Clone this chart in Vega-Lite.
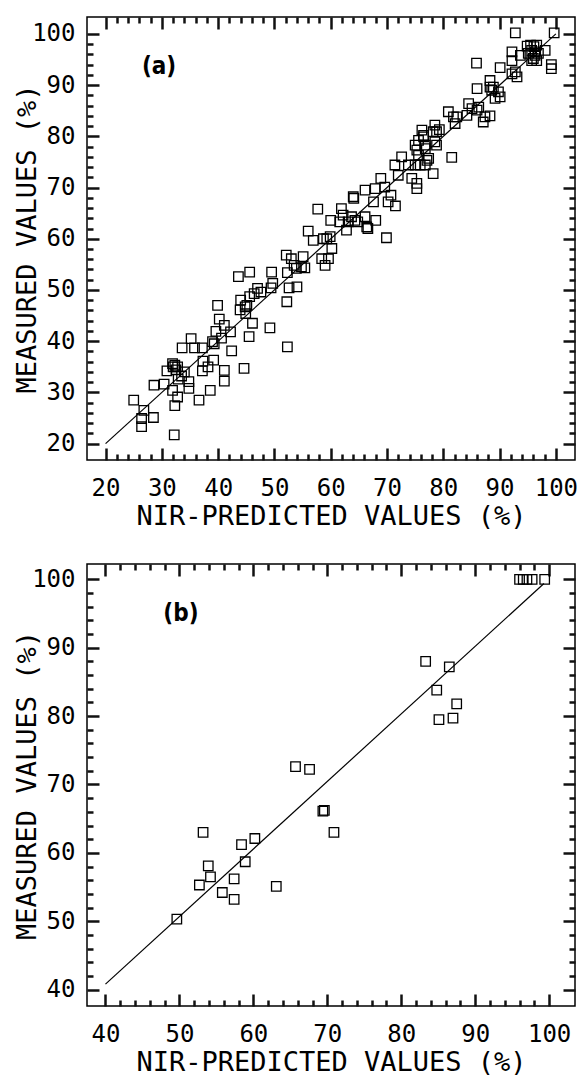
{
  "$schema": "https://vega.github.io/schema/vega-lite/v6.json",
  "padding": {"left": 12, "top": 15, "right": 0, "bottom": 5},
  "spacing": 104,
  "bounds": "flush",
  "config": {
    "view": {"stroke": "black", "strokeWidth": 1.5},
    "axis": {
      "domain": false, "grid": false,
      "labelFont": "DejaVu Sans Mono", "labelFontSize": 24, "labelColor": "black",
      "titleFont": "DejaVu Sans Mono", "titleFontSize": 27, "titleFontWeight": "normal", "titleColor": "black",
      "tickColor": "#111111", "tickWidth": 2.5, "tickSize": -12,
      "labelFlush": false, "labelOverlap": false, "labelBound": false
    }
  },
  "datasets": {
    "pa": [
      {"p":25.0,"m":28.5},{"p":26.8,"m":26.5},{"p":26.4,"m":24.9},{"p":26.4,"m":23.3},{"p":28.5,"m":25.1},{"p":32.2,"m":21.7},{"p":32.3,"m":27.4},{"p":28.6,"m":31.4},{"p":30.4,"m":31.6},{"p":30.9,"m":34.2},
      {"p":31.9,"m":35.6},{"p":32.0,"m":35.0},{"p":32.3,"m":35.3},{"p":32.8,"m":35.0},{"p":32.5,"m":34.4},{"p":34.0,"m":34.0},{"p":31.9,"m":30.4},{"p":32.8,"m":29.1},{"p":32.9,"m":32.6},{"p":33.5,"m":33.2},
      {"p":34.8,"m":32.1},{"p":34.8,"m":30.8},{"p":33.6,"m":38.7},{"p":35.2,"m":40.5},{"p":35.8,"m":38.7},{"p":36.6,"m":28.5},{"p":37.2,"m":34.2},{"p":37.3,"m":36.1},{"p":37.2,"m":38.7},{"p":38.6,"m":30.4},
      {"p":39.2,"m":36.3},{"p":39.0,"m":39.9},{"p":39.3,"m":39.5},{"p":39.9,"m":47.0},{"p":40.2,"m":44.3},{"p":39.6,"m":41.9},{"p":40.6,"m":40.6},{"p":41.1,"m":43.1},{"p":41.1,"m":34.3},{"p":41.1,"m":32.2},
      {"p":42.4,"m":38.1},{"p":42.2,"m":41.8},{"p":43.6,"m":52.6},{"p":44.0,"m":48.0},{"p":43.9,"m":46.1},{"p":44.6,"m":34.7},{"p":45.1,"m":47.0},{"p":45.6,"m":53.5},{"p":44.9,"m":45.4},{"p":45.5,"m":40.9},
      {"p":46.1,"m":43.5},{"p":46.4,"m":49.3},{"p":47.0,"m":50.3},{"p":47.6,"m":49.6},{"p":49.2,"m":42.6},{"p":49.5,"m":53.5},{"p":49.7,"m":51.3},{"p":52.2,"m":47.7},{"p":52.3,"m":38.9},{"p":52.6,"m":50.4},
      {"p":54.0,"m":50.6},{"p":38.2,"m":35.0},{"p":45.6,"m":48.7},{"p":44.8,"m":46.7},{"p":49.4,"m":50.4},
      {"p":52.1,"m":56.8},{"p":53.0,"m":56.1},{"p":53.5,"m":54.8},{"p":53.9,"m":54.2},{"p":55.1,"m":56.5},{"p":54.8,"m":54.5},{"p":55.4,"m":54.3},{"p":52.3,"m":53.4},{"p":56.0,"m":61.5},{"p":56.9,"m":59.7},
      {"p":57.7,"m":65.8},{"p":58.7,"m":60.0},{"p":59.3,"m":60.0},{"p":59.9,"m":60.4},{"p":58.4,"m":56.1},{"p":59.0,"m":54.8},{"p":59.6,"m":56.1},{"p":60.2,"m":58.1},{"p":60.0,"m":63.6},{"p":61.9,"m":65.9},
      {"p":62.2,"m":64.6},{"p":61.6,"m":63.3},{"p":63.1,"m":63.3},{"p":63.7,"m":64.3},{"p":64.3,"m":63.6},{"p":64.8,"m":63.3},{"p":62.8,"m":61.7},{"p":64.0,"m":68.2},{"p":64.1,"m":67.9},{"p":66.1,"m":69.5},
      {"p":66.1,"m":64.3},{"p":66.4,"m":62.3},{"p":68.0,"m":63.6},{"p":66.6,"m":62.0},{"p":67.6,"m":67.2},{"p":67.9,"m":69.8},{"p":68.9,"m":71.8},{"p":69.6,"m":70.1},{"p":69.9,"m":60.2},{"p":70.7,"m":68.5},
      {"p":71.5,"m":66.4},{"p":70.2,"m":67.2},{"p":71.4,"m":74.4},{"p":72.0,"m":72.4},{"p":72.6,"m":76.0},{"p":73.8,"m":74.4},{"p":75.0,"m":74.4},{"p":75.9,"m":74.4},{"p":74.4,"m":71.8},{"p":75.3,"m":70.8},
      {"p":75.3,"m":69.8},{"p":75.6,"m":76.3},{"p":77.4,"m":75.7},{"p":76.8,"m":74.4},{"p":78.2,"m":72.7},{"p":75.0,"m":78.3},{"p":75.6,"m":79.2},{"p":76.5,"m":80.2},{"p":76.8,"m":78.3},{"p":78.5,"m":78.9},
      {"p":78.8,"m":78.3},{"p":81.5,"m":75.9},{"p":75.3,"m":77.3},{"p":76.8,"m":77.6},{"p":77.1,"m":75.3},
      {"p":78.5,"m":82.2},{"p":78.8,"m":80.9},{"p":78.2,"m":80.9},{"p":76.2,"m":81.2},{"p":76.5,"m":79.9},{"p":79.3,"m":81.3},{"p":80.9,"m":84.8},{"p":81.8,"m":83.8},{"p":82.1,"m":82.5},{"p":82.4,"m":83.8},
      {"p":84.2,"m":84.1},{"p":84.5,"m":86.4},{"p":85.1,"m":85.4},{"p":86.3,"m":85.7},{"p":86.0,"m":85.1},{"p":87.4,"m":83.8},{"p":88.3,"m":84.0},{"p":87.1,"m":82.8},{"p":86.0,"m":89.3},{"p":85.9,"m":94.3},
      {"p":88.3,"m":90.9},{"p":88.3,"m":89.6},{"p":88.9,"m":89.6},{"p":88.6,"m":89.0},{"p":89.8,"m":88.7},{"p":90.1,"m":87.7},{"p":89.2,"m":87.4},{"p":90.1,"m":93.4},{"p":92.2,"m":92.2},{"p":92.8,"m":92.6},
      {"p":93.1,"m":91.6},{"p":92.2,"m":96.5},{"p":92.2,"m":94.8},{"p":93.7,"m":95.8},{"p":92.8,"m":100.2},{"p":94.9,"m":97.6},{"p":95.5,"m":97.8},{"p":96.1,"m":97.5},{"p":96.6,"m":97.8},{"p":95.7,"m":96.8},
      {"p":95.1,"m":96.2},{"p":96.3,"m":95.8},{"p":96.9,"m":96.2},{"p":96.0,"m":95.2},{"p":95.7,"m":94.8},{"p":96.6,"m":94.8},{"p":96.3,"m":96.5},{"p":98.1,"m":96.8},{"p":99.2,"m":94.0},{"p":99.2,"m":93.2},
      {"p":99.7,"m":100.2}
    ],
    "pb": [
      {"p":49.65,"m":50.3},{"p":53.2,"m":63.0},{"p":52.7,"m":55.3},{"p":53.9,"m":58.1},{"p":54.2,"m":56.5},{"p":55.8,"m":54.2},{"p":57.4,"m":56.2},{"p":57.4,"m":53.2},{"p":58.4,"m":61.2},{"p":58.9,"m":58.7},
      {"p":60.2,"m":62.1},{"p":63.1,"m":55.1},{"p":65.7,"m":72.6},{"p":67.6,"m":72.2},{"p":69.4,"m":66.1},{"p":69.6,"m":66.2},{"p":70.9,"m":63.0},{"p":83.3,"m":88.0},{"p":86.5,"m":87.2},{"p":84.8,"m":83.8},
      {"p":85.1,"m":79.5},{"p":87.0,"m":79.7},{"p":87.5,"m":81.8},{"p":96.0,"m":100},{"p":96.5,"m":100},{"p":97.0,"m":100},{"p":97.7,"m":100},{"p":99.4,"m":100}
    ],
    "fa": [{"p":20,"m":20},{"p":100,"m":100}],
    "fb": [{"p":40,"m":40.8},{"p":99.3,"m":99.4}]
  },
  "vconcat": [
    {
      "width": 488, "height": 443,
      "layer": [
        {
          "data": {"name": "pa"},
          "mark": {"type": "point", "shape": "square", "filled": false, "size": 90, "stroke": "black", "strokeWidth": 1.3, "opacity": 1},
          "encoding": {
            "x": {"field": "p", "type": "quantitative", "scale": {"domain": [16.7, 103.4], "nice": false, "zero": false},
              "axis": {"orient": "bottom", "values": [20,22,24,26,28,30,32,34,36,38,40,42,44,46,48,50,52,54,56,58,60,62,64,66,68,70,72,74,76,78,80,82,84,86,88,90,92,94,96,98,100],
                "labelExpr": "datum.value % 10 === 0 ? datum.label : ''",
                "tickColor": "#111111", "tickWidth": 2.5, "tickSize": -12,
                "tickDash": {"condition": {"test": "datum.value % 10 === 0", "value": [20, 0]}, "value": [6, 40]},
                "labelPadding": 28, "title": "NIR-PREDICTED VALUES (%)", "titlePadding": 3}},
            "y": {"field": "m", "type": "quantitative", "scale": {"domain": [16.8, 103.3], "nice": false, "zero": false},
              "axis": {"orient": "left", "values": [20,22,24,26,28,30,32,34,36,38,40,42,44,46,48,50,52,54,56,58,60,62,64,66,68,70,72,74,76,78,80,82,84,86,88,90,92,94,96,98,100],
                "labelExpr": "datum.value % 10 === 0 ? datum.label : ''",
                "tickColor": "#111111", "tickWidth": 2.5, "tickSize": -12,
                "tickDash": {"condition": {"test": "datum.value % 10 === 0", "value": [20, 0]}, "value": [6, 40]},
                "labelPadding": 24, "title": "MEASURED VALUES (%)", "titlePadding": -10}}
          }
        },
        {
          "data": {"name": "fa"},
          "mark": {"type": "line", "color": "black", "strokeWidth": 1.2},
          "encoding": {
            "x": {"field": "p", "type": "quantitative", "scale": {"domain": [16.7, 103.4], "nice": false, "zero": false},
              "axis": {"orient": "top", "labels": false, "title": null, "values": [20,22,24,26,28,30,32,34,36,38,40,42,44,46,48,50,52,54,56,58,60,62,64,66,68,70,72,74,76,78,80,82,84,86,88,90,92,94,96,98,100],
                "tickColor": "#111111", "tickWidth": 2.5, "tickSize": -12,
                "tickDash": {"condition": {"test": "datum.value % 10 === 0", "value": [20, 0]}, "value": [6, 40]}}},
            "y": {"field": "m", "type": "quantitative", "scale": {"domain": [16.8, 103.3], "nice": false, "zero": false},
              "axis": {"orient": "right", "labels": false, "title": null, "values": [20,22,24,26,28,30,32,34,36,38,40,42,44,46,48,50,52,54,56,58,60,62,64,66,68,70,72,74,76,78,80,82,84,86,88,90,92,94,96,98,100],
                "tickColor": "#111111", "tickWidth": 2.5, "tickSize": -12,
                "tickDash": {"condition": {"test": "datum.value % 10 === 0", "value": [20, 0]}, "value": [6, 40]}}}
          }
        },
        {
          "data": {"values": [{}]},
          "mark": {"type": "text", "text": "(a)", "font": "DejaVu Sans Condensed, DejaVu Sans", "fontWeight": "bold", "fontSize": 24, "color": "black"},
          "encoding": {
            "x": {"datum": 29.5, "type": "quantitative", "axis": null},
            "y": {"datum": 93.5, "type": "quantitative", "axis": null}
          }
        }
      ],
      "resolve": {"axis": {"x": "independent", "y": "independent"}}
    },
    {
      "width": 488, "height": 442,
      "layer": [
        {
          "data": {"name": "pb"},
          "mark": {"type": "point", "shape": "square", "filled": false, "size": 90, "stroke": "black", "strokeWidth": 1.3, "opacity": 1},
          "encoding": {
            "x": {"field": "p", "type": "quantitative", "scale": {"domain": [37.5, 103.5], "nice": false, "zero": false},
              "axis": {"orient": "bottom", "values": [40,42,44,46,48,50,52,54,56,58,60,62,64,66,68,70,72,74,76,78,80,82,84,86,88,90,92,94,96,98,100],
                "labelExpr": "datum.value % 10 === 0 ? datum.label : ''",
                "tickColor": "#111111", "tickWidth": 2.5, "tickSize": -12,
                "tickDash": {"condition": {"test": "datum.value % 10 === 0", "value": [20, 0]}, "value": [6, 40]},
                "labelPadding": 28, "title": "NIR-PREDICTED VALUES (%)", "titlePadding": 3}},
            "y": {"field": "m", "type": "quantitative", "scale": {"domain": [37.6, 102.25], "nice": false, "zero": false},
              "axis": {"orient": "left", "values": [40,42,44,46,48,50,52,54,56,58,60,62,64,66,68,70,72,74,76,78,80,82,84,86,88,90,92,94,96,98,100],
                "labelExpr": "datum.value % 10 === 0 ? datum.label : ''",
                "tickColor": "#111111", "tickWidth": 2.5, "tickSize": -12,
                "tickDash": {"condition": {"test": "datum.value % 10 === 0", "value": [20, 0]}, "value": [6, 40]},
                "labelPadding": 24, "title": "MEASURED VALUES (%)", "titlePadding": -10}}
          }
        },
        {
          "data": {"name": "fb"},
          "mark": {"type": "line", "color": "black", "strokeWidth": 1.2},
          "encoding": {
            "x": {"field": "p", "type": "quantitative", "scale": {"domain": [37.5, 103.5], "nice": false, "zero": false},
              "axis": {"orient": "top", "labels": false, "title": null, "values": [40,42,44,46,48,50,52,54,56,58,60,62,64,66,68,70,72,74,76,78,80,82,84,86,88,90,92,94,96,98,100],
                "tickColor": "#111111", "tickWidth": 2.5, "tickSize": -12,
                "tickDash": {"condition": {"test": "datum.value % 10 === 0", "value": [20, 0]}, "value": [6, 40]}}},
            "y": {"field": "m", "type": "quantitative", "scale": {"domain": [37.6, 102.25], "nice": false, "zero": false},
              "axis": {"orient": "right", "labels": false, "title": null, "values": [40,42,44,46,48,50,52,54,56,58,60,62,64,66,68,70,72,74,76,78,80,82,84,86,88,90,92,94,96,98,100],
                "tickColor": "#111111", "tickWidth": 2.5, "tickSize": -12,
                "tickDash": {"condition": {"test": "datum.value % 10 === 0", "value": [20, 0]}, "value": [6, 40]}}}
          }
        },
        {
          "data": {"values": [{}]},
          "mark": {"type": "text", "text": "(b)", "font": "DejaVu Sans Condensed, DejaVu Sans", "fontWeight": "bold", "fontSize": 24, "color": "black"},
          "encoding": {
            "x": {"datum": 50.2, "type": "quantitative", "axis": null},
            "y": {"datum": 95.0, "type": "quantitative", "axis": null}
          }
        }
      ],
      "resolve": {"axis": {"x": "independent", "y": "independent"}}
    }
  ]
}
